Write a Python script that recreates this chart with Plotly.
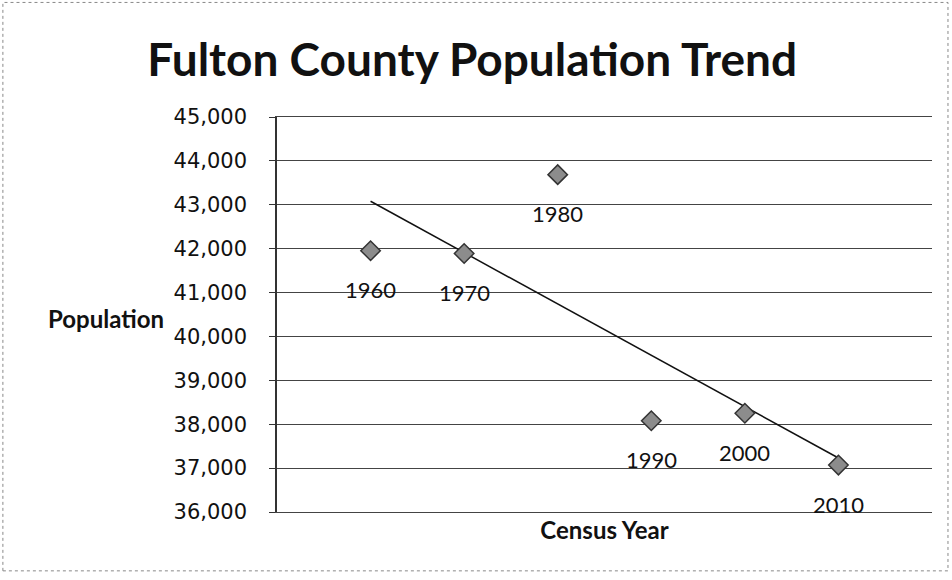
import numpy as np
import plotly.graph_objects as go

years = [1960, 1970, 1980, 1990, 2000, 2010]
population = [41954, 41890, 43687, 38080, 38250, 37069]
year_labels = [str(y) for y in years]

title_text = "Fulton County Population Trend"
x_title = "Census Year"
y_title = "Population"

slope, intercept = np.polyfit(years, population, 1)
trend_x = [years[0], years[-1]]
trend_y = [slope * x + intercept for x in trend_x]

fig = go.Figure()
fig.add_trace(go.Scatter(
    x=trend_x, y=trend_y, mode="lines",
    line=dict(color="#111111", width=1.5), hoverinfo="skip", showlegend=False))
fig.add_trace(go.Scatter(
    x=years, y=population, mode="markers",
    marker=dict(symbol="diamond", size=15, color="#8c8c8c",
                line=dict(color="#333333", width=1.5)),
    showlegend=False))

for x, y, t in zip(years, population, year_labels):
    fig.add_annotation(x=x, y=y, text=t, showarrow=False, yshift=-39,
                       font=dict(family="Lato", size=22, color="#111111"))

fig.add_annotation(xref="paper", yref="paper", x=-0.261, y=0.49, text=y_title,
                   showarrow=False, xanchor="center", yanchor="middle",
                   font=dict(family="Lato", size=24, color="#111111", weight="bold"))

fig.add_shape(type="rect", xref="paper", yref="paper",
              x0=-0.4185, x1=1.0244, y0=-0.149, y1=1.29,
              line=dict(color="#888888", width=1, dash="dot"), layer="below")

fig.update_layout(
    width=952, height=580,
    margin=dict(l=277, r=20, t=117, b=68),
    paper_bgcolor="white", plot_bgcolor="white",
    title=dict(text=title_text, x=0.496, xanchor="center", y=0.897, yanchor="middle",
               font=dict(family="Lato", size=46, color="#111111", weight="bold")),
    xaxis=dict(range=[1950, 2020], showticklabels=False, showgrid=False,
               zeroline=False, showline=True, mirror=True,
               linecolor="#444444", linewidth=1, ticks="",
               title=dict(text=x_title, standoff=10,
                          font=dict(family="Lato", size=24, color="#111111", weight="bold"))),
    yaxis=dict(range=[36000, 45000], dtick=1000, tickformat=",",
               showgrid=True, gridcolor="#444444", gridwidth=1,
               showline=True, linecolor="#333333", linewidth=1.5,
               ticks="outside", ticklen=6, tickcolor="#333333",
               ticklabelstandoff=18,
               zeroline=False,
               tickfont=dict(family="DejaVu Sans", size=21, color="#111111")),
)

fig.write_html("out.html")
